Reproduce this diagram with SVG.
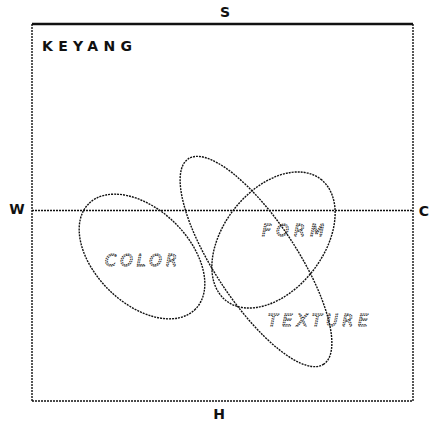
<svg xmlns="http://www.w3.org/2000/svg" width="430" height="421" viewBox="0 0 430 421">
<style>
.dot{fill:none;stroke:#111;stroke-width:1.4;stroke-dasharray:2 1}
.axis{font-family:"DejaVu Sans","Liberation Sans",sans-serif;font-weight:bold;font-size:14px;fill:#111}
.lbl{font-family:"DejaVu Sans","Liberation Sans",sans-serif;font-style:italic;font-size:16px;fill:none;stroke:#222;stroke-width:0.9;stroke-dasharray:1.5 0.8}
</style>
<rect width="430" height="421" fill="#fff"/>
<g id="frame">
<line x1="32" y1="24" x2="413" y2="24" stroke="#111" stroke-width="2.5"/>
<line x1="32" y1="24" x2="32" y2="401" class="dot"/>
<line x1="413" y1="24" x2="413" y2="401" class="dot"/>
<line x1="32" y1="401" x2="413" y2="401" class="dot"/>
</g>
<g id="connectors">
<line x1="32" y1="210.5" x2="413" y2="210.5" class="dot"/>
</g>
<g id="color">
<ellipse cx="142" cy="256.5" rx="75" ry="47" transform="rotate(44.5 142 256.5)" class="dot"/>
<text x="105" y="266" class="lbl" textLength="72" lengthAdjust="spacing">COLOR</text>
</g>
<g id="form">
<ellipse cx="273.5" cy="240" rx="77" ry="50" transform="rotate(-52 273.5 240)" class="dot"/>
<text x="262" y="236" class="lbl" textLength="62" lengthAdjust="spacing">FORM</text>
</g>
<g id="texture">
<ellipse cx="256" cy="261.5" rx="123" ry="41" transform="rotate(56.6 256 261.5)" class="dot"/>
<text x="268" y="326" class="lbl" textLength="100" lengthAdjust="spacing">TEXTURE</text>
</g>
<g id="labels">
<text x="42" y="51" class="axis" textLength="90" lengthAdjust="spacing">KEYANG</text>
<text x="225" y="17" class="axis" text-anchor="middle">S</text>
<text x="17" y="214" class="axis" text-anchor="middle">W</text>
<text x="424" y="216" class="axis" text-anchor="middle">C</text>
<text x="219" y="419" class="axis" text-anchor="middle">H</text>
</g>
</svg>
